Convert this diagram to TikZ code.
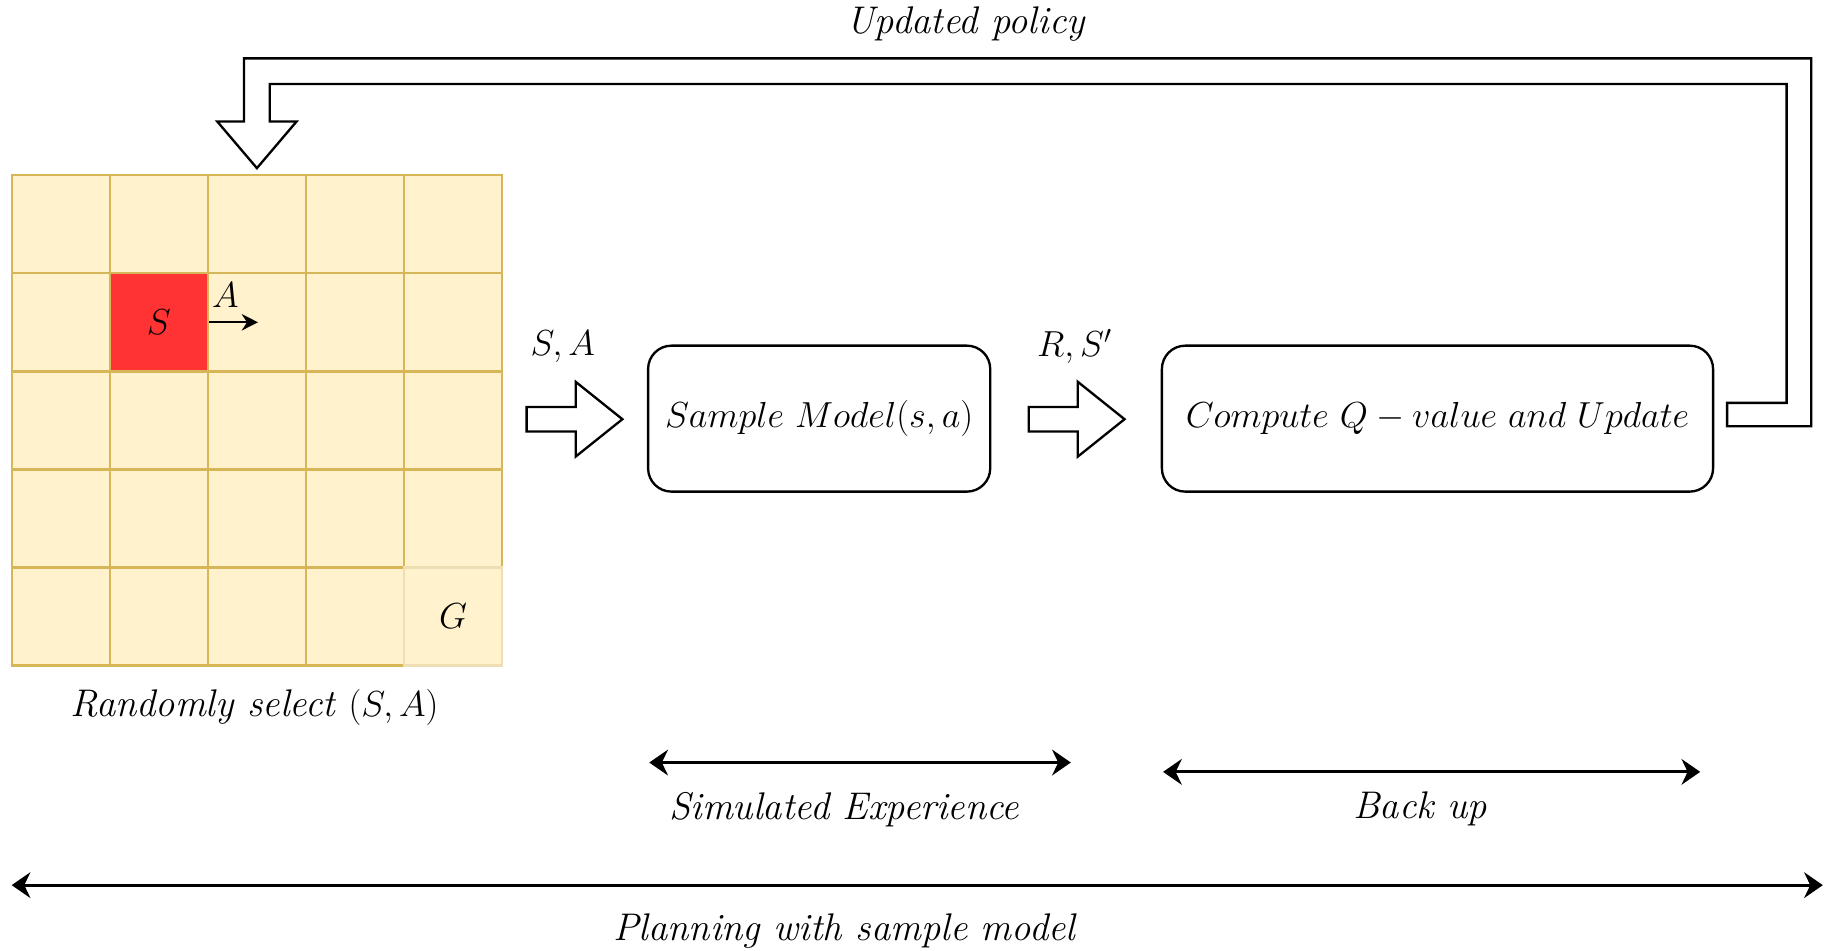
\RequirePackage{fix-cm}
\documentclass[tikz,border=0pt]{standalone}
\usetikzlibrary{arrows.meta}
\definecolor{cellfill}{HTML}{FFF2CC}
\definecolor{celldraw}{HTML}{D6B656}
\definecolor{redcell}{HTML}{FF3333}
\begin{document}
\begin{tikzpicture}[x=1pt,y=-1pt,font=\fontsize{31}{37}\selectfont,
  cell/.style={fill=cellfill,draw=celldraw,line width=2pt,minimum size=84pt,inner sep=0pt},
  box/.style={draw,line width=2pt,rounded corners=20pt,minimum height=125pt,inner sep=0pt},
  fat/.style={draw,fill=white,line width=2pt,line join=miter},
  span/.style={line width=2.5pt,{Stealth[length=16pt,width=22pt]}-{Stealth[length=16pt,width=22pt]}},
  lbl/.style={inner sep=0pt},
  itl/.style={inner sep=0pt,font=\fontsize{33}{40}\selectfont\itshape}]
\useasboundingbox (0,0) rectangle (1568,814);
% grid
\foreach \i in {0,...,4}{
  \foreach \j in {0,...,4}{
    \node[cell] (c\i\j) at (52+84*\i,192+84*\j) {};
  }
}
\node[cell,fill=redcell] (c11) at (136,276) {$S$};
\node[cell,draw=celldraw!45] (c44) at (388,528) {$G$};
\draw[line width=2pt,-{Stealth[length=14pt,width=14pt]}] (c11.east) -- ++(42,0) coordinate (aend);
\node[lbl] (alab) at (193,253) {$A$};
\node[itl] (rand) at (218,606) {Randomly select {\fontsize{31}{37}\selectfont$(S,A)$}};
% boxes
\node[box,minimum width=293pt] (sm) at (701.5,358.5) {$Sample\ Model(s,a)$};
\node[box,minimum width=472pt] (cq) at (1231,358.5) {$Compute\ Q-value\ and\ Update$};
% fat arrows
\draw[fat] (451,348.5) -- (493,348.5) -- (493,327) -- (533,359) -- (493,391) -- (493,369.5) -- (451,369.5) -- cycle;
\draw[fat] (881,348.5) -- (923,348.5) -- (923,327) -- (963,359) -- (923,391) -- (923,369.5) -- (881,369.5) -- cycle;
\node[lbl] (sa) at (482,297) {$S,A$};
\node[lbl] (rs) at (920,297) {$R,S'$};
% feedback arrow
\draw[fat] (1479,365) -- (1551,365) -- (1551,50) -- (209,50) -- (209,104) -- (186,104) -- (220,144)
  -- (254,104) -- (231,104) -- (231,72) -- (1530,72) -- (1530,345) -- (1479,345) -- cycle;
\node[itl] (upd) at (827,21) {Updated policy};
% spans
\coordinate (s1) at (556,653); \coordinate (s2) at (917,653);
\draw[span] (s1) -- (s2);
\node[itl] (simlab) at (723,693) {Simulated Experience};
\coordinate (b1) at (996,661); \coordinate (b2) at (1456,661);
\draw[span] (b1) -- (b2);
\node[itl] (backlab) at (1216,693) {Back up};
\coordinate (p1) at (10,758); \coordinate (p2) at (1561,758);
\draw[span] (p1) -- (p2);
\node[itl] (planlab) at (723,797) {Planning with sample model};
\end{tikzpicture}
\end{document}
